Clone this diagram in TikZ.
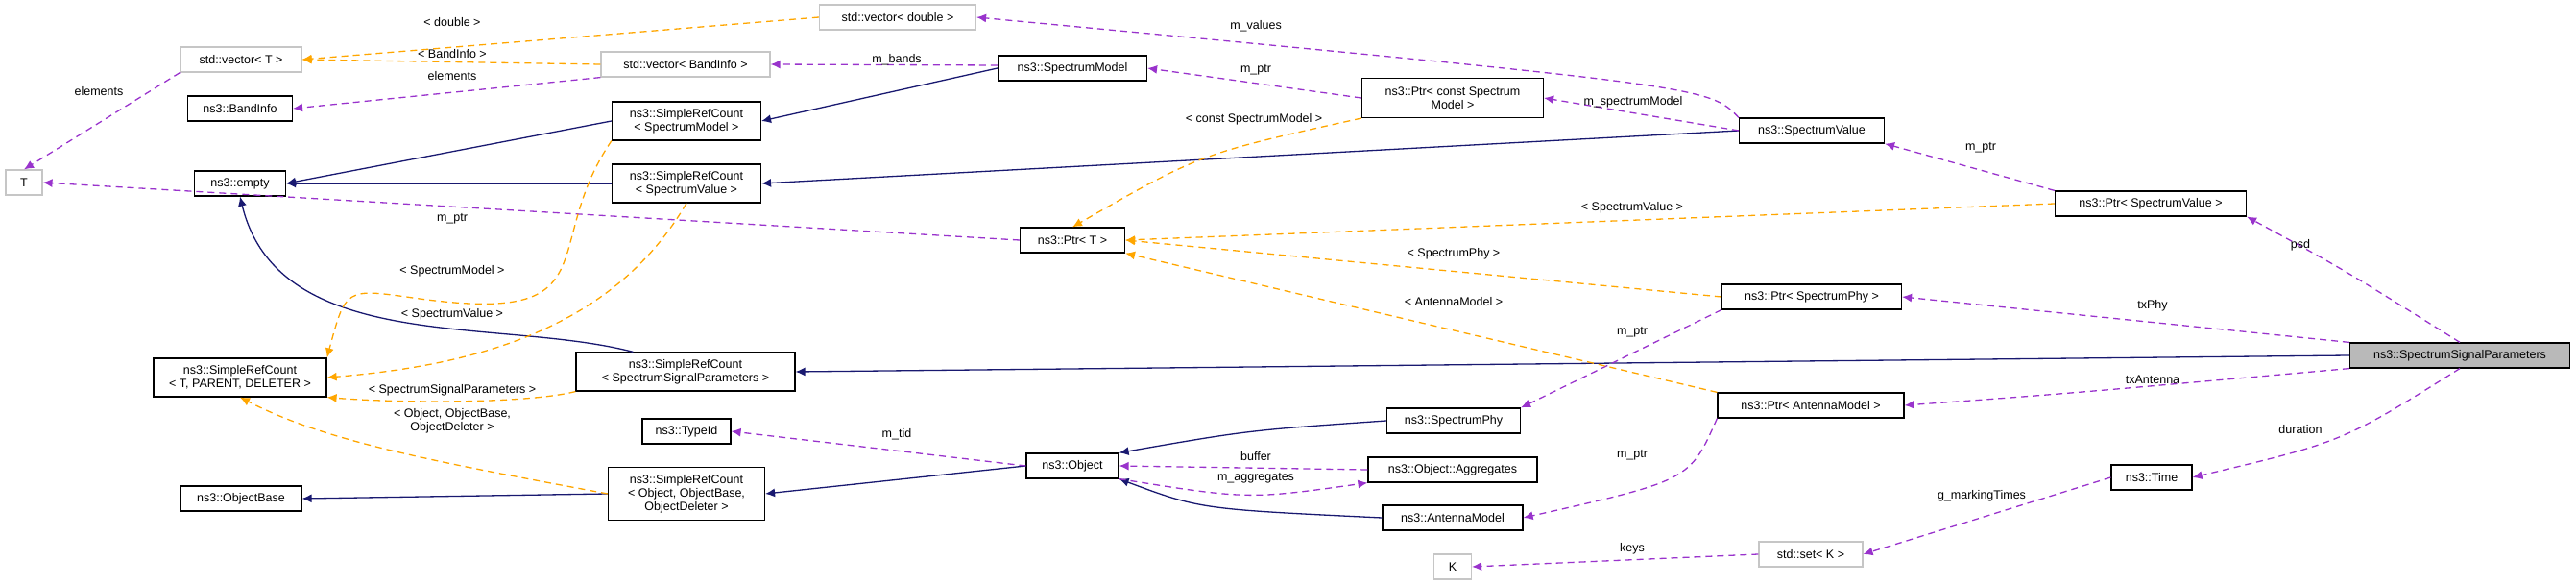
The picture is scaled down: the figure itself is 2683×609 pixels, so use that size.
\documentclass[tikz,border=0pt]{standalone}
\usepackage{fontspec}
\setmainfont{Liberation Sans}
\usetikzlibrary{arrows.meta,positioning}
\definecolor{inherit}{rgb}{0.10 0.10 0.44}
\definecolor{usage}{rgb}{0.60 0.20 0.80}
\definecolor{templ}{rgb}{1.00 0.65 0.00}
\tikzset{
  cls/.style={draw=black,line width=1.2pt,fill=white,inner sep=0pt,minimum height=26pt,align=center,font=\fontsize{12.5}{14}\selectfont},
  ext/.style={cls,draw=gray!45},
  cur/.style={cls,fill=gray!55},
  inh/.style={draw=inherit,line width=1.3pt,-{Latex[length=10pt,width=9pt]}},
  use/.style={draw=usage,line width=1.3pt,dash pattern=on 7pt off 5pt,-{Latex[length=10pt,width=9pt]}},
  tpl/.style={draw=templ,line width=1.3pt,dash pattern=on 7pt off 5pt,-{Latex[length=10pt,width=9pt]}},
  lbl/.style={font=\fontsize{12.5}{14}\selectfont,inner sep=1pt,align=center}
}
\begin{document}
\begin{tikzpicture}[x=1pt,y=-1pt]
\useasboundingbox (0,0) rectangle (2683,609);

% left column
\node[ext,minimum width=38pt]  (T)      at (25,190)  {T};
\node[ext,minimum width=126pt] (vecT)   at (251,62)  {std::vector< T >};
\node[cls,minimum width=109pt] (band)   at (250,113) {ns3::BandInfo};
\node[cls,minimum width=95pt]  (empty)  at (250,191) {ns3::empty};
\node[cls,minimum width=180pt,minimum height=40pt] (srcGen) at (250,393) {ns3::SimpleRefCount\\< T, PARENT, DELETER >};
\node[cls,minimum width=126pt] (objBase) at (251,519) {ns3::ObjectBase};

% second column
\node[ext,minimum width=176pt] (vecBand)  at (714,67)  {std::vector< BandInfo >};
\node[cls,minimum width=155pt,minimum height=40pt] (srcModel) at (715,126) {ns3::SimpleRefCount\\< SpectrumModel >};
\node[cls,minimum width=155pt,minimum height=40pt] (srcValue) at (715,191) {ns3::SimpleRefCount\\< SpectrumValue >};
\node[cls,minimum width=228pt,minimum height=40pt] (srcSSP)   at (714,387) {ns3::SimpleRefCount\\< SpectrumSignalParameters >};
\node[cls,minimum width=92pt]  (typeId)   at (715,449) {ns3::TypeId};
\node[cls,minimum width=163pt,minimum height=55pt] (srcObj) at (715,514) {ns3::SimpleRefCount\\< Object, ObjectBase,\\ObjectDeleter >};

% third column
\node[ext,minimum width=163pt] (vecDouble) at (935,18)   {std::vector< double >};
\node[cls,minimum width=155pt] (specModel) at (1117,71)  {ns3::SpectrumModel};
\node[cls,minimum width=109pt] (ptrT)      at (1117,250) {ns3::Ptr< T >};
\node[cls,minimum width=96pt]  (object)    at (1117,485) {ns3::Object};

% fourth column
\node[cls,minimum width=189pt,minimum height=41pt] (ptrModel) at (1513,102) {ns3::Ptr< const Spectrum\\Model >};
\node[cls,minimum width=139pt] (specPhy)   at (1514,438) {ns3::SpectrumPhy};
\node[cls,minimum width=176pt] (aggr)      at (1513,489) {ns3::Object::Aggregates};
\node[cls,minimum width=146pt] (antenna)   at (1513,539) {ns3::AntennaModel};
\node[ext,minimum width=39pt]  (K)         at (1513,590) {K};

% fifth column
\node[cls,minimum width=151pt] (specValue) at (1887,136) {ns3::SpectrumValue};
\node[cls,minimum width=187pt] (ptrPhy)    at (1887,309) {ns3::Ptr< SpectrumPhy >};
\node[cls,minimum width=194pt] (ptrAnt)    at (1886,422) {ns3::Ptr< AntennaModel >};
\node[ext,minimum width=108pt] (setK)      at (1886,577) {std::set< K >};

% right
\node[cls,minimum width=199pt] (ptrValue)  at (2240,212) {ns3::Ptr< SpectrumValue >};
\node[cls,minimum width=84pt]  (time)      at (2241,497) {ns3::Time};
\node[cur,minimum width=229pt] (ssp)       at (2562,370) {ns3::SpectrumSignalParameters};

% inheritance
\draw[inh] (srcModel.west) -- (empty.east);
\draw[inh] (srcValue.west) -- (empty.east);
\draw[inh] (srcSSP.north west) ++(60,0) .. controls (520,330) and (290,370) .. (empty.south);
\draw[inh] (srcObj.west) -- (objBase.east);
\draw[inh] (specModel.west) -- (srcModel.east);
\draw[inh] (specValue.west) -- (srcValue.east);
\draw[inh] (ssp.west) -- (srcSSP.east);
\draw[inh] (object.west) -- (srcObj.east);
\draw[inh] (specPhy.west) .. controls (1300,448) .. (object.north east);
\draw[inh] (antenna.west) .. controls (1250,530) .. (object.south east);

% usage
\draw[use] (vecT.south west) -- (T.north) node[lbl] at (103,95) {elements};
\draw[use] (vecBand.south west) -- (band.east) node[lbl] at (471,79) {elements};
\draw[use] (specModel.west) ++(0,-3) -- (vecBand.east) node[lbl] at (934,62) {m\_bands};
\draw[use] (specValue.north west) .. controls (1780,90) .. (vecDouble.east) node[lbl] at (1308,27) {m\_values};
\draw[use] (ptrModel.west) -- (specModel.east) node[lbl] at (1308,73) {m\_ptr};
\draw[use] (specValue.west) -- (ptrModel.east) node[lbl] at (1701,106) {m\_spectrumModel};
\draw[use] (ptrT.west) -- (T.east) node[lbl] at (471,228) {m\_ptr};
\draw[use] (ptrValue.north west) -- (specValue.south east) node[lbl] at (2063,154) {m\_ptr};
\draw[use] (ssp.north) .. controls (2440,280) .. (ptrValue.south east) node[lbl] at (2396,255) {psd};
\draw[use] (ssp.north west) -- (ptrPhy.east) node[lbl] at (2242,318) {txPhy};
\draw[use] (ssp.south west) .. controls (2150,410) .. (ptrAnt.east) node[lbl] at (2242,395) {txAntenna};
\draw[use] (ssp.south) .. controls (2440,460) .. (time.east) node[lbl] at (2396,447) {duration};
\draw[use] (ptrPhy.south west) -- (specPhy.north east) node[lbl] at (1700,346) {m\_ptr};
\draw[use] (ptrAnt.south west) .. controls (1760,500) .. (antenna.east) node[lbl] at (1700,474) {m\_ptr};
\draw[use] (object.west) -- (typeId.east) node[lbl] at (934,452) {m\_tid};
\draw[use] (aggr.west) -- (object.east) node[lbl] at (1308,475) {buffer};
\draw[use] (object.south east) .. controls (1300,520) .. (aggr.south west) node[lbl] at (1308,498) {m\_aggregates};
\draw[use] (time.west) -- (setK.east) node[lbl] at (2064,516) {g\_markingTimes};
\draw[use] (setK.west) -- (K.east) node[lbl] at (1700,571) {keys};

% template instances
\draw[tpl] (vecDouble.west) -- (vecT.east) node[lbl] at (471,23) {< double >};
\draw[tpl] (vecBand.west) -- (vecT.east) node[lbl] at (471,56) {< BandInfo >};
\draw[tpl] (srcModel.south west) .. controls (560,260) and (640,340) .. (430,310) .. controls (360,300) .. (srcGen.north east) node[lbl] at (471,282) {< SpectrumModel >};
\draw[tpl] (srcValue.south) .. controls (640,340) and (500,380) .. (srcGen.east) node[lbl] at (471,327) {< SpectrumValue >};
\draw[tpl] (srcSSP.south west) .. controls (550,420) and (420,420) .. (srcGen.south east) node[lbl] at (471,406) {< SpectrumSignalParameters >};
\draw[tpl] (srcObj.west) .. controls (450,480) and (340,460) .. (srcGen.south) node[lbl] at (471,438) {< Object, ObjectBase,\\ObjectDeleter >};
\draw[tpl] (ptrModel.south west) .. controls (1250,160) .. (ptrT.north) node[lbl] at (1306,124) {< const SpectrumModel >};
\draw[tpl] (ptrValue.west) -- (ptrT.east) node[lbl] at (1700,216) {< SpectrumValue >};
\draw[tpl] (ptrPhy.west) -- (ptrT.east) node[lbl] at (1514,264) {< SpectrumPhy >};
\draw[tpl] (ptrAnt.north west) -- (ptrT.south east) node[lbl] at (1514,314) {< AntennaModel >};
\end{tikzpicture}
\end{document}
